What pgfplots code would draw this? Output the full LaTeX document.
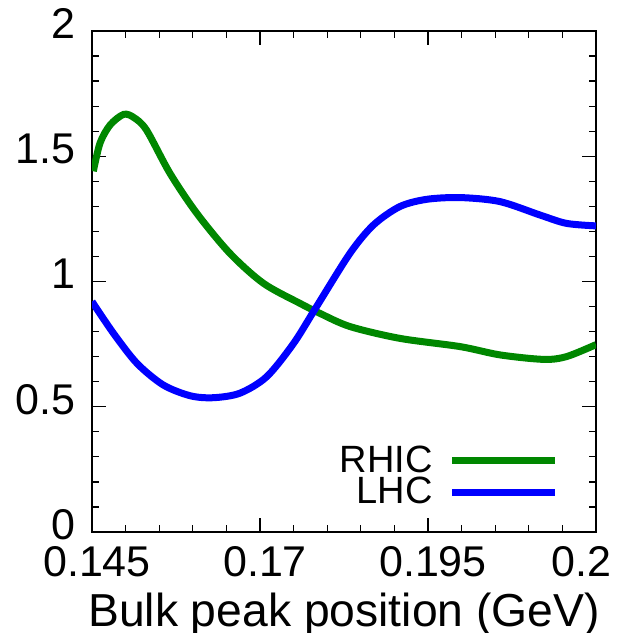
\documentclass[border=0pt]{standalone}
\usepackage{fontspec}
\setmainfont{Liberation Sans}
\usepackage{pgfplots}
\pgfplotsset{compat=1.18}

\definecolor{rhic}{rgb}{0,0.53,0}
\definecolor{lhc}{rgb}{0,0,1}

\begin{document}
\begin{tikzpicture}
\begin{axis}[
    scale only axis,
    width=201.6pt, height=200.4pt,
    xmin=0.145, xmax=0.22,
    ymin=0, ymax=2,
    xtick={0.145,0.17,0.195},
    xticklabels={0.145,0.17,0.195},
    extra x ticks={0.22},
    extra x tick labels={0.2},
    extra x tick style={xticklabel style={xshift=-7.8pt}},
    minor xtick={0.15,0.155,...,0.216},
    ytick={0,0.5,1,1.5,2},
    yticklabels={0,0.5,1,1.5,2},
    minor ytick={0.1,0.2,0.3,0.4,0.6,0.7,0.8,0.9,1.1,1.2,1.3,1.4,1.6,1.7,1.8,1.9},
    tick align=inside,
    major tick length=5.6pt,
    minor tick length=2.8pt,
    every tick/.style={black, line width=0.5pt},
    axis line style={line width=0.7pt},
    tick label style={font=\fontsize{17.2}{17.2}\selectfont},
    yticklabel style={xshift=-3pt, yshift=3pt},
    xticklabel style={yshift=-2.2pt, xshift=2pt},
    /pgf/number format/assume math mode=true,
    xlabel={Bulk peak position (GeV)},
    xlabel style={font=\fontsize{18.5}{18.5}\selectfont, yshift=0.5pt},
    legend style={draw=none, fill=none, at={(rel axis cs:0.941,0.031)}, anchor=south east,
        font=\fontsize{15.2}{15.2}\selectfont, row sep=-2.6pt,
        nodes={inner sep=1.5pt}},
    legend cell align=right,
    legend plot pos=right,
    legend image code/.code={\path (0pt,0pt); \draw[#1] (5pt,0pt) -- (46pt,0pt);},
    clip=true,
]
\addplot[rhic, line width=2.8pt, smooth] coordinates {
    (0.1452,1.440) (0.1462,1.553) (0.1477,1.625) (0.1497,1.667) (0.1512,1.655)
    (0.1531,1.605) (0.1566,1.432) (0.1606,1.272) (0.1655,1.113) (0.1705,0.993)
    (0.1760,0.912) (0.1789,0.873) (0.1834,0.820) (0.1908,0.773) (0.1998,0.740)
    (0.2057,0.707) (0.2122,0.689) (0.2156,0.700) (0.2200,0.748)
};
\addlegendentry{RHIC}
\addplot[lhc, line width=2.8pt, smooth] coordinates {
    (0.1450,0.920) (0.1482,0.793) (0.1517,0.673) (0.1556,0.587) (0.1596,0.544)
    (0.1630,0.536) (0.1670,0.554) (0.1710,0.620) (0.1750,0.753) (0.1784,0.899)
    (0.1834,1.113) (0.1869,1.226) (0.1908,1.299) (0.1948,1.328) (0.1998,1.335)
    (0.2057,1.319) (0.2117,1.265) (0.2156,1.232) (0.2200,1.222)
};
\addlegendentry{LHC}
\coordinate (bl) at (rel axis cs:0,0);
\coordinate (tr) at (rel axis cs:1,1);
\end{axis}
\pgfresetboundingbox
\path[use as bounding box] ([xshift=-36.8pt,yshift=-40.4pt]bl) rectangle ([xshift=10pt,yshift=12.4pt]tr);
\end{tikzpicture}
\end{document}
